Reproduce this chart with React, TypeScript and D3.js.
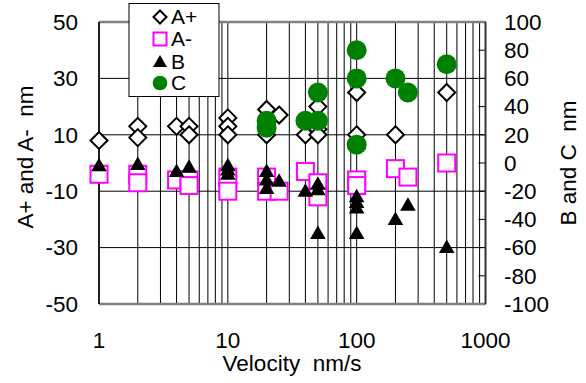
import React from 'react';
import * as d3 from 'd3';

const aPlusVelocity = [1, 2, 2, 4, 5, 5, 10, 10, 10, 20, 20, 25, 40, 50, 50, 50, 100, 100, 200, 500];
const aPlusValue = [8, 13, 9, 13, 13, 10, 16, 13, 10, 19, 10, 17, 10, 20, 12, 10, 25, 10, 10, 25];

const aMinusVelocity = [1, 2, 2, 4, 5, 5, 10, 10, 20, 20, 25, 40, 50, 50, 100, 100, 200, 250, 500];
const aMinusValue = [-4, -4, -7, -6, -6, -8, -5, -10, -5, -10, -10, -3, -7, -12, -6, -8, -2, -5, 0];

const bVelocity = [1, 2, 4, 5, 10, 10, 10, 20, 20, 20, 25, 40, 50, 50, 50, 100, 100, 100, 100, 200, 250, 500];
const bValue = [-2, -1, -6, -3, -2, -5, -8, -6, -12, -18, -13, -20, -15, -19, -50, -24, -28, -32, -50, -40, -30, -60];

const cVelocity = [20, 20, 40, 50, 50, 100, 100, 100, 200, 250, 500];
const cValue = [30, 25, 30, 50, 30, 80, 60, 13, 60, 50, 70];

const xTickLabels = [1, 10, 100, 1000];
const leftTickLabels = [50, 30, 10, -10, -30, -50];
const rightTickLabels = [100, 80, 60, 40, 20, 0, -20, -40, -60, -80, -100];
const legendLabels = ['A+', 'A-', 'B', 'C'];

const FONT = '"Liberation Sans", Arial, sans-serif';
const FS = 22.5;

export default function App() {
  const left = 99, right = 485.5, top = 22, bottom = 304;
  const x = d3.scaleLog().domain([1, 1000]).range([left, right]);
  const yL = d3.scaleLinear().domain([-50, 50]).range([bottom, top]);
  const yR = d3.scaleLinear().domain([-100, 100]).range([bottom, top]);
  const grid = x.ticks();

  const tri = d3.symbol().type(d3.symbolTriangle).size(105)() as string;
  const triLeg = d3.symbol().type(d3.symbolTriangle).size(85)() as string;

  const diamond = (cx: number, cy: number, r: number) =>
    `M${cx},${cy - r}L${cx + r},${cy}L${cx},${cy + r}L${cx - r},${cy}Z`;

  const legY = [17, 39, 62, 83];

  return (
    <svg width={586} height={383} style={{ position: 'absolute', left: 0, top: 0, background: '#fff' }} fontFamily={FONT}>
      {grid.map((v, i) => (
        <line key={'vg' + i} x1={x(v)} x2={x(v)} y1={top} y2={bottom} stroke="#000" strokeWidth={1} />
      ))}
      {leftTickLabels.map((v, i) => (
        <line key={'hg' + i} x1={left} x2={right} y1={yL(v)} y2={yL(v)} stroke="#000" strokeWidth={1} />
      ))}
      {rightTickLabels.map((v, i) => (
        <line key={'rt' + i} x1={right - 7} x2={right} y1={yR(v)} y2={yR(v)} stroke="#000" strokeWidth={1} />
      ))}
      <line x1={left} x2={right} y1={top} y2={top} stroke="#808080" strokeWidth={2.5} />
      <line x1={left} x2={right} y1={bottom} y2={bottom} stroke="#808080" strokeWidth={2.5} />
      <line x1={left} x2={left} y1={top} y2={bottom} stroke="#000" strokeWidth={1.5} />
      <line x1={right} x2={right} y1={top} y2={bottom} stroke="#333" strokeWidth={2} />

      {aPlusVelocity.map((v, i) => (
        <path key={'ap' + i} d={diamond(x(v), yL(aPlusValue[i]), 8.5)} fill="#fff" stroke="#000" strokeWidth={2} />
      ))}
      {aMinusVelocity.map((v, i) => (
        <rect key={'am' + i} x={x(v) - 8.5} y={yL(aMinusValue[i]) - 8.5} width={17} height={17} fill="#fff" stroke="#ff00ff" strokeWidth={2} />
      ))}
      {bVelocity.map((v, i) => (
        <path key={'b' + i} d={tri} transform={`translate(${x(v)},${yR(bValue[i]) + 1})`} fill="#000" />
      ))}
      {cVelocity.map((v, i) => (
        <circle key={'c' + i} cx={x(v)} cy={yR(cValue[i])} r={10} fill="#008000" />
      ))}

      {leftTickLabels.map((v, i) => (
        <text key={'lt' + i} x={78} y={yL(v)} dy="0.35em" textAnchor="end" fontSize={FS} fill="#000">{v}</text>
      ))}
      {rightTickLabels.map((v, i) => (
        <text key={'rl' + i} x={504} y={yR(v)} dy="0.35em" textAnchor="start" fontSize={FS} fill="#000">{v}</text>
      ))}
      {xTickLabels.map((v, i) => (
        <text key={'xt' + i} x={x(v)} y={340} dy="0.35em" textAnchor="middle" fontSize={FS} fill="#000">{v}</text>
      ))}

      <text x={292} y={363} dy="0.35em" textAnchor="middle" fontSize={FS} style={{ whiteSpace: 'pre' }}>{'Velocity  nm/s'}</text>
      <text transform="translate(25,157) rotate(-90)" dy="0.35em" textAnchor="middle" fontSize={FS} style={{ whiteSpace: 'pre' }}>{'A+ and A-  nm'}</text>
      <text transform="translate(568,163) rotate(-90)" dy="0.35em" textAnchor="middle" fontSize={FS} style={{ whiteSpace: 'pre' }}>{'B and C  nm'}</text>

      <rect x={129} y={3.5} width={90} height={93} fill="#fff" stroke="#000" strokeWidth={1} />
      <path d={diamond(160, legY[0], 6.5)} fill="#fff" stroke="#000" strokeWidth={2} />
      <rect x={153.5} y={legY[1] - 6.5} width={13} height={13} fill="#fff" stroke="#ff00ff" strokeWidth={2} />
      <path d={triLeg} transform={`translate(160,${legY[2] + 1})`} fill="#000" />
      <circle cx={160} cy={legY[3]} r={7.3} fill="#008000" />
      {legendLabels.map((l, i) => (
        <text key={'lg' + i} x={171} y={legY[i]} dy="0.35em" fontSize={21} fill="#000">{l}</text>
      ))}
    </svg>
  );
}
